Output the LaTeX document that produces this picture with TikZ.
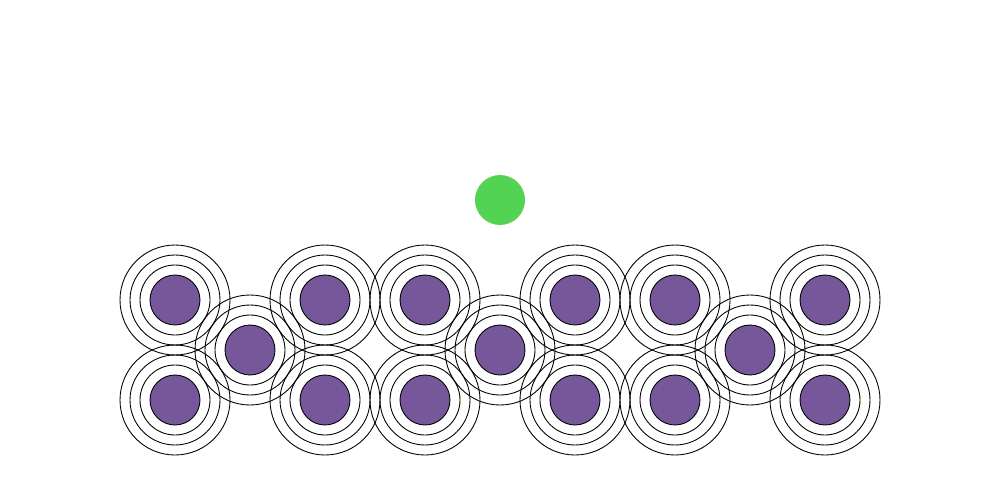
\documentclass[tikz,border=0pt]{standalone}
\usepackage{tikz}
\definecolor{AtomPurple}{RGB}{118,87,153}
\definecolor{AtomGreen}{RGB}{83,211,83}
\tikzset{
  atom/.style={circle,draw,line width=0.5pt,fill=AtomPurple,minimum size=1cm,inner sep=0pt},
  adatom/.style={circle,fill=AtomGreen,minimum size=1cm,inner sep=0pt},
  shell/.style={line width=0.5pt}
}

\begin{document}
\begin{tikzpicture}[x=0.02cm,y=-0.02cm]
\useasboundingbox (0,0) rectangle (1000,500);
% surface layer
\foreach \name/\px/\py in {t1/175/300,t2/325/300,t3/425/300,t4/575/300,t5/675/300,t6/825/300,
  m1/250/350,m2/500/350,m3/750/350,
  b1/175/400,b2/325/400,b3/425/400,b4/575/400,b5/675/400,b6/825/400}{
  \node[atom] (\name) at (\px,\py) {};
  \foreach \r in {35,45,55}
    \draw[shell] (\name.center) circle[radius=\r];
}
% incoming atom
\node[adatom] (ad) at (500,200) {};
\end{tikzpicture}
\end{document}
